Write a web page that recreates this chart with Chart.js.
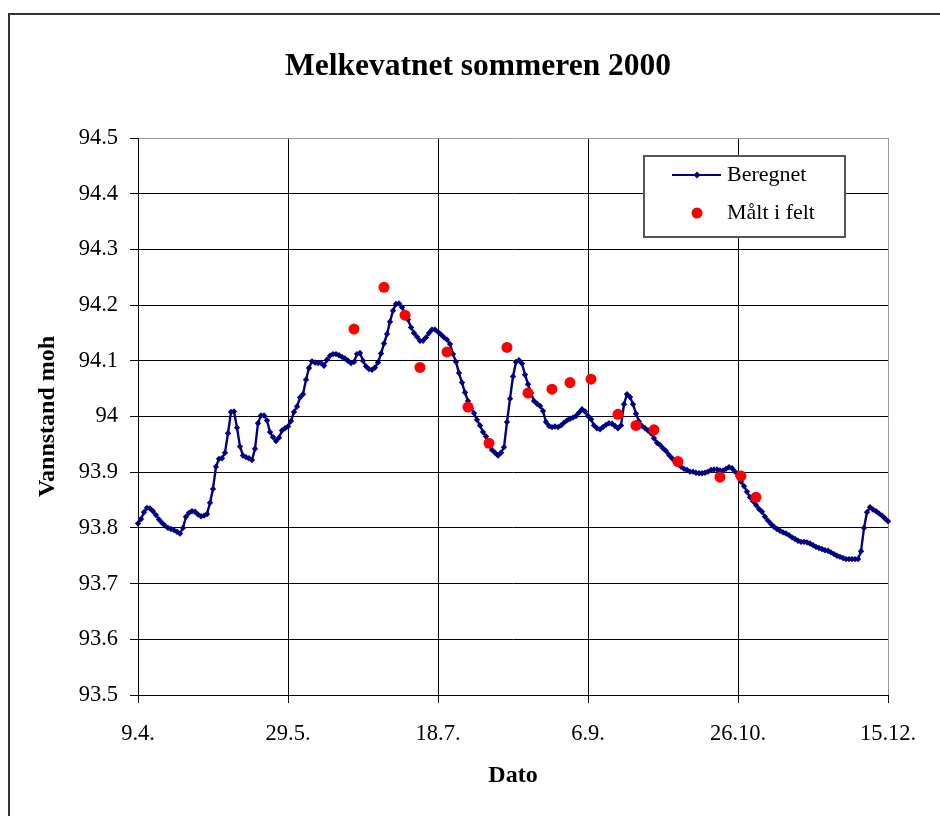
<!DOCTYPE html>
<html>
<head>
<meta charset="utf-8">
<title>Melkevatnet sommeren 2000</title>
<script src="https://cdn.jsdelivr.net/npm/chart.js@4.4.1/dist/chart.umd.min.js"></script>
<style>
  html, body { margin: 0; padding: 0; background: #fff; overflow: hidden; }
  #frame { position: absolute; left: 8px; top: 13px; width: 1000px; height: 1000px; border: 2px solid #333; }
  #wrap { position: absolute; left: 0; top: 0; width: 940px; height: 816px; }
</style>
</head>
<body>
<div id="frame"></div>
<div id="wrap"><canvas id="chart" width="940" height="816"></canvas></div>
<script>
// day 0 = 9.4.2000, one value per day
const tickLabels = ['9.4.', '29.5.', '18.7.', '6.9.', '26.10.', '15.12.'];

const beregnet = [
  93.808, 93.816, 93.828, 93.836, 93.835, 93.830, 93.823, 93.815, 93.809, 93.804,
  93.800, 93.798, 93.796, 93.793, 93.790, 93.800, 93.820, 93.827, 93.830, 93.829,
  93.824, 93.821, 93.822, 93.825, 93.845, 93.870, 93.910, 93.924, 93.925, 93.935,
  93.970, 94.008, 94.009, 93.980, 93.946, 93.930, 93.927, 93.925, 93.922, 93.942,
  93.988, 94.002, 94.002, 93.993, 93.972, 93.963, 93.956, 93.962, 93.975, 93.979,
  93.982, 93.992, 94.008, 94.018, 94.034, 94.040, 94.066, 94.087, 94.099, 94.097,
  94.096, 94.096, 94.091, 94.102, 94.109, 94.112, 94.112, 94.110, 94.107, 94.104,
  94.100, 94.096, 94.098, 94.112, 94.114, 94.100, 94.090, 94.085, 94.084, 94.088,
  94.097, 94.113, 94.131, 94.148, 94.170, 94.190, 94.202, 94.203, 94.196, 94.185,
  94.174, 94.160, 94.150, 94.143, 94.136, 94.136, 94.142, 94.150, 94.156, 94.156,
  94.152, 94.147, 94.142, 94.138, 94.130, 94.112, 94.098, 94.078, 94.061, 94.043,
  94.028, 94.015, 94.006, 93.994, 93.984, 93.972, 93.964, 93.954, 93.940, 93.935,
  93.930, 93.935, 93.945, 93.990, 94.032, 94.072, 94.098, 94.101, 94.095, 94.075,
  94.058, 94.042, 94.028, 94.023, 94.019, 94.010, 93.990, 93.983, 93.981, 93.982,
  93.981, 93.984, 93.989, 93.993, 93.996, 93.998, 94.001, 94.007, 94.013, 94.009,
  94.001, 93.995, 93.984, 93.979, 93.977, 93.981, 93.985, 93.988, 93.987, 93.983,
  93.979, 93.984, 94.022, 94.040, 94.035, 94.022, 94.005, 93.991, 93.983, 93.979,
  93.975, 93.970, 93.961, 93.953, 93.949, 93.943, 93.938, 93.931, 93.925, 93.919,
  93.914, 93.910, 93.906, 93.904, 93.901, 93.901, 93.899, 93.898, 93.898, 93.899,
  93.901, 93.904, 93.905, 93.905, 93.903, 93.903, 93.906, 93.909, 93.907, 93.901,
  93.893, 93.883, 93.875, 93.865, 93.855, 93.848, 93.841, 93.834, 93.829, 93.820,
  93.813, 93.807, 93.802, 93.798, 93.795, 93.792, 93.790, 93.787, 93.783, 93.780,
  93.777, 93.775, 93.775, 93.774, 93.772, 93.769, 93.766, 93.764, 93.762, 93.760,
  93.759, 93.756, 93.753, 93.750, 93.748, 93.746, 93.744, 93.744, 93.744, 93.744,
  93.744, 93.758, 93.800, 93.828, 93.837, 93.833, 93.830, 93.826, 93.822, 93.817,
  93.812
];

const maltDager = [72, 82, 89, 94, 103, 110, 117, 123, 130, 138, 144, 151, 160, 166, 172, 180, 194, 201, 206];
const maltVerdier = [94.157, 94.232, 94.182, 94.088, 94.116, 94.017, 93.952, 94.124, 94.042, 94.049,
                     94.061, 94.067, 94.004, 93.984, 93.976, 93.919, 93.891, 93.893, 93.855];

const serif = '"Liberation Serif", "Times New Roman", serif';
const navy = '#000080';

// title + legend box, drawn on top
const extras = {
  id: 'extras',
  afterDraw(chart) {
    const ctx = chart.ctx;
    ctx.save();
    ctx.fillStyle = '#000';
    ctx.font = 'bold 31.5px ' + serif;
    ctx.textAlign = 'center';
    ctx.textBaseline = 'alphabetic';
    ctx.fillText('Melkevatnet sommeren 2000', 478, 75);

    ctx.fillStyle = '#fff';
    ctx.fillRect(644, 156, 201, 81);
    ctx.strokeStyle = '#555';
    ctx.lineWidth = 2;
    ctx.strokeRect(644, 156, 201, 81);

    ctx.strokeStyle = navy;
    ctx.lineWidth = 2;
    ctx.beginPath();
    ctx.moveTo(672, 175);
    ctx.lineTo(721, 175);
    ctx.stroke();
    ctx.fillStyle = navy;
    ctx.beginPath();
    ctx.moveTo(697, 171.5); ctx.lineTo(700.5, 175); ctx.lineTo(697, 178.5); ctx.lineTo(693.5, 175);
    ctx.closePath();
    ctx.fill();

    ctx.fillStyle = '#ff0000';
    ctx.beginPath();
    ctx.arc(697, 213, 5.5, 0, Math.PI * 2);
    ctx.fill();

    ctx.fillStyle = '#000';
    ctx.font = '22px ' + serif;
    ctx.textAlign = 'left';
    ctx.fillText('Beregnet', 727, 181);
    ctx.fillText('Målt i felt', 727, 219);
    ctx.restore();
  }
};

const tickFont = { family: serif, size: 22.5 };
const titleFont = { family: serif, size: 24, weight: 'bold' };

new Chart(document.getElementById('chart'), {
  type: 'line',
  data: {
    datasets: [{
      label: 'Målt i felt',
      data: maltDager.map((d, i) => ({ x: d, y: maltVerdier[i] })),
      showLine: false,
      pointStyle: 'circle',
      pointRadius: 5.5,
      pointBorderWidth: 0,
      backgroundColor: '#ff0000',
      borderColor: '#ff0000',
      order: 0
    }, {
      label: 'Beregnet',
      data: beregnet.map((v, i) => ({ x: i, y: v })),
      borderColor: navy,
      backgroundColor: navy,
      borderWidth: 2.4,
      pointStyle: 'rectRot',
      pointRadius: 3.2,
      pointBorderWidth: 0,
      tension: 0,
      clip: false,
      order: 1
    }]
  },
  options: {
    responsive: false,
    animation: false,
    layout: { padding: { left: 0, right: 52, top: 138, bottom: 0 } },
    plugins: { legend: { display: false }, tooltip: { enabled: false } },
    scales: {
      x: {
        type: 'linear',
        min: 0,
        max: 250,
        afterFit: s => { s.height = 121; },
        ticks: {
          stepSize: 50,
          padding: 18,
          color: '#000',
          font: tickFont,
          maxRotation: 0,
          callback: v => tickLabels[Math.round(v / 50)]
        },
        grid: {
          color: c => (c.tick && c.tick.value === 250) ? '#999' : '#000',
          tickColor: '#000',
          tickLength: 8,
          lineWidth: 1
        },
        border: { color: '#000', width: 1 },
        title: { display: true, text: 'Dato', color: '#000', font: titleFont, padding: { bottom: 26 } }
      },
      y: {
        min: 93.5,
        max: 94.5,
        afterFit: s => { s.width = 138; },
        ticks: {
          stepSize: 0.1,
          padding: 12,
          color: '#000',
          font: tickFont,
          callback: v => String(Math.round(v * 10) / 10)
        },
        grid: {
          color: c => (c.tick && c.tick.value > 94.49) ? '#999' : '#000',
          tickColor: '#000',
          tickLength: 8,
          lineWidth: 1
        },
        border: { color: '#000', width: 1 },
        title: { display: true, text: 'Vannstand moh', color: '#000', font: titleFont, padding: { top: 33 } }
      }
    }
  },
  plugins: [extras]
});
</script>
</body>
</html>
